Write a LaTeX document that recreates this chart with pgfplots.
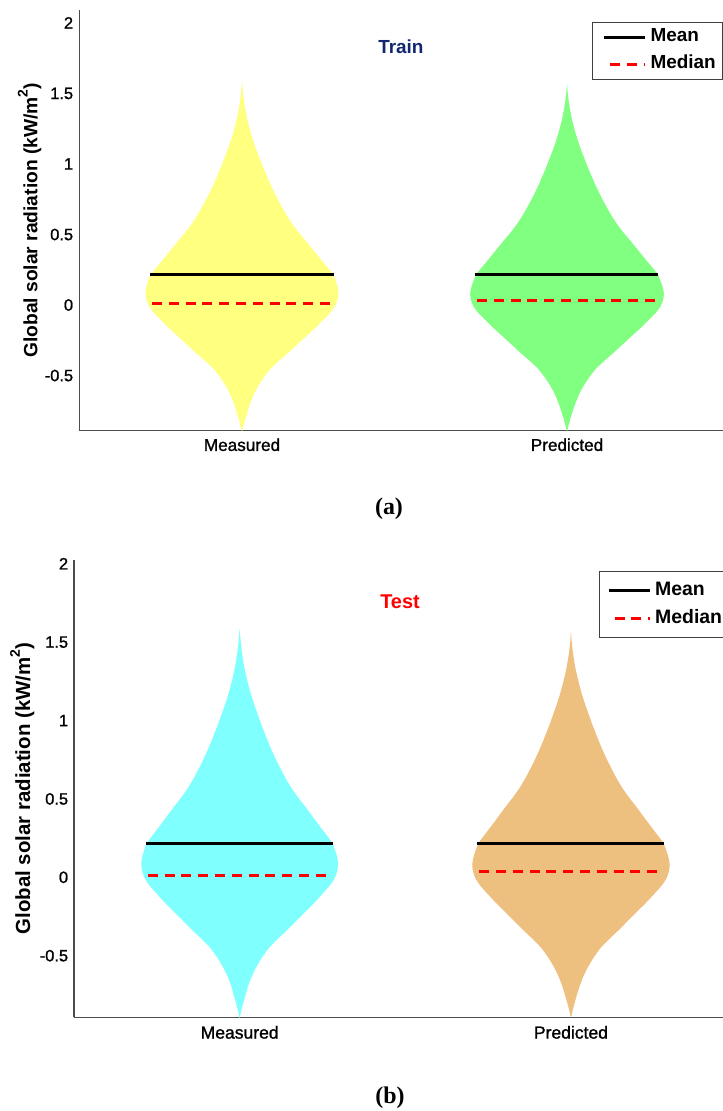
\documentclass[border=0pt]{standalone}
\usepackage{fontspec}
\setmainfont{Liberation Sans}
\newfontfamily\tickfont[FakeBold=1.2]{Liberation Sans}
\newfontfamily\timesfont{Liberation Serif}
\usepackage{pgfplots}
\usepackage{pgfplotstable}
\pgfplotsset{compat=1.18}
\usepgfplotslibrary{fillbetween}

\definecolor{vyellow}{RGB}{255,255,128}
\definecolor{vgreen}{RGB}{128,255,128}
\definecolor{vcyan}{RGB}{128,255,255}
\definecolor{vtan}{RGB}{237,192,128}
\definecolor{navy}{RGB}{18,40,110}

% violin half-width profiles: y, half width w (x units)
\pgfplotstableread{
y w
-0.900 0.000
-0.860 0.004
-0.810 0.010
-0.750 0.018
-0.690 0.026
-0.630 0.037
-0.570 0.051
-0.510 0.068
-0.452 0.088
-0.395 0.114
-0.335 0.144
-0.275 0.172
-0.216 0.200
-0.157 0.228
-0.098 0.253
-0.050 0.273
-0.004 0.287
0.045 0.295
0.091 0.297
0.140 0.293
0.214 0.281
0.270 0.262
0.328 0.241
0.385 0.221
0.445 0.200
0.505 0.178
0.564 0.158
0.623 0.141
0.682 0.126
0.741 0.112
0.800 0.099
0.859 0.087
0.918 0.076
0.977 0.065
1.037 0.055
1.096 0.045
1.155 0.036
1.214 0.028
1.273 0.021
1.330 0.015
1.390 0.010
1.450 0.006
1.510 0.003
1.585 0.000
}\meas

\pgfplotstableread{
y w
-0.900 0.000
-0.860 0.004
-0.810 0.010
-0.750 0.018
-0.690 0.027
-0.630 0.038
-0.570 0.052
-0.510 0.069
-0.452 0.089
-0.395 0.115
-0.335 0.145
-0.275 0.173
-0.216 0.201
-0.157 0.229
-0.098 0.255
-0.050 0.275
-0.004 0.289
0.040 0.296
0.082 0.298
0.130 0.294
0.214 0.280
0.270 0.261
0.328 0.240
0.385 0.220
0.445 0.199
0.505 0.177
0.564 0.157
0.623 0.140
0.682 0.125
0.741 0.111
0.800 0.098
0.859 0.086
0.918 0.075
0.977 0.064
1.037 0.054
1.096 0.044
1.155 0.035
1.214 0.027
1.273 0.020
1.330 0.014
1.390 0.009
1.450 0.005
1.510 0.002
1.570 0.000
}\pred

\pgfplotsset{
  vio/.style={
    scale only axis,
    axis x line*=bottom, axis y line*=left,
    axis line style={-, draw=black!70, line width=1.3bp},
    xmin=0.5, xmax=2.5,
    xtick={1,2}, xticklabels={Measured,Predicted},
    ytick={-0.5,0,0.5,1,1.5,2},
    yticklabels={{-0.5},{0},{0.5},{1},{1.5},{2}},
    major tick length=0pt,
    ylabel={Global solar radiation (kW/m\raisebox{0.5em}{\fontsize{14}{14}\selectfont 2})},
    legend image code/.code={\path (0bp,0bp) (45bp,0bp); \draw[##1, dash phase=10.8bp] (3bp,0bp) -- (44bp,0bp);},
  },
  meanl/.style={black, line width=3bp},
  medl/.style={red, line width=3bp, dash pattern=on 10bp off 6.8bp},
  vside/.style={draw=none, forget plot, smooth, tension=0.4},
}

\begin{document}
\begin{tikzpicture}
\path (0,0) (723bp,1111bp);

% ---------------- (a) Train ----------------
\begin{axis}[vio,
  at={(79.5bp,680.3bp)}, anchor=south west,
  width=650bp, height=420.7bp,
  ymin=-0.891, ymax=2.092,
  yticklabel style={font=\tickfont\fontsize{16.5}{18}\selectfont, inner sep=0pt, anchor=east, xshift=-6.2bp},
  xticklabel style={font=\tickfont\fontsize{17.2}{19}\selectfont, inner sep=0pt, anchor=north, yshift=-7.6bp},
  ylabel style={font=\bfseries\fontsize{19.3}{22}\selectfont, at={(axis description cs:-0.0649,0.5)}, anchor=base},
  legend style={at={(axis description cs:0.7885,0.9722)}, anchor=north west,
    draw=black!75, line width=1bp, fill=white, inner xsep=7bp, inner ysep=5.8bp,
    font=\bfseries\fontsize{19}{22}\selectfont,
    nodes={inner sep=0pt, text height=14bp, text depth=5bp},
    row sep=7.7bp, column sep=3bp, cells={anchor=west}},
]
\addplot[name path=aMR, vside] table[x expr=1+\thisrow{w}, y=y]{\meas};
\addplot[name path=aML, vside] table[x expr=1-\thisrow{w}, y=y]{\meas};
\addplot[fill=vyellow, draw=none, forget plot] fill between[of=aMR and aML];
\addplot[name path=aPR, vside] table[x expr=2+\thisrow{w}, y=y]{\pred};
\addplot[name path=aPL, vside] table[x expr=2-\thisrow{w}, y=y]{\pred};
\addplot[fill=vgreen, draw=none, forget plot] fill between[of=aPR and aPL];

\addplot[meanl] coordinates {(0.718,0.215) (1.283,0.215)};
\addlegendentry{Mean}
\addplot[medl] coordinates {(0.723,0.010) (1.277,0.010)};
\addlegendentry{Median}
\addplot[meanl, forget plot] coordinates {(1.716,0.215) (2.281,0.215)};
\addplot[medl, forget plot] coordinates {(1.723,0.035) (2.277,0.035)};

\node[font=\bfseries\fontsize{19}{22}\selectfont, text=navy] at (axis cs:1.489,1.832) {Train};
\end{axis}

\node[font=\timesfont\bfseries\fontsize{24}{26}\selectfont] at (389bp,602.5bp) {(a)};

% ---------------- (b) Test ----------------
\begin{axis}[vio,
  at={(74bp,93.7bp)}, anchor=south west,
  width=662.6bp, height=457.3bp,
  ymin=-0.893, ymax=2.024,
  yticklabel style={font=\tickfont\fontsize{16.5}{18}\selectfont, inner sep=0pt, anchor=east, xshift=-5.7bp},
  xticklabel style={font=\tickfont\fontsize{17.6}{19}\selectfont, inner sep=0pt, anchor=north, yshift=-8.4bp},
  ylabel style={font=\bfseries\fontsize{20.5}{22}\selectfont, at={(axis description cs:-0.0664,0.5)}, anchor=base},
  legend style={at={(axis description cs:0.7923,0.9766)}, anchor=north west,
    draw=black!75, line width=1bp, fill=white, inner xsep=4.7bp, inner ysep=9.5bp,
    font=\bfseries\fontsize{19.5}{22}\selectfont,
    nodes={inner sep=0pt, text height=14.5bp, text depth=5bp},
    row sep=8.3bp, column sep=3bp, cells={anchor=west}},
]
\addplot[name path=bMR, vside] table[x expr=1+\thisrow{w}, y=y]{\meas};
\addplot[name path=bML, vside] table[x expr=1-\thisrow{w}, y=y]{\meas};
\addplot[fill=vcyan, draw=none, forget plot] fill between[of=bMR and bML];
\addplot[name path=bPR, vside] table[x expr=2+\thisrow{w}, y=y]{\pred};
\addplot[name path=bPL, vside] table[x expr=2-\thisrow{w}, y=y]{\pred};
\addplot[fill=vtan, draw=none, forget plot] fill between[of=bPR and bPL];

\addplot[meanl] coordinates {(0.718,0.217) (1.283,0.217)};
\addlegendentry{Mean}
\addplot[medl] coordinates {(0.723,0.010) (1.277,0.010)};
\addlegendentry{Median}
\addplot[meanl, forget plot] coordinates {(1.716,0.217) (2.281,0.217)};
\addplot[medl, forget plot] coordinates {(1.723,0.040) (2.277,0.040)};

\node[font=\bfseries\fontsize{20}{22}\selectfont, text=red] at (axis cs:1.484,1.758) {Test};
\end{axis}

\node[font=\timesfont\bfseries\fontsize{24}{26}\selectfont] at (390bp,13.5bp) {(b)};

\pgfresetboundingbox
\useasboundingbox (0,0) rectangle (723bp,1111bp);
\end{tikzpicture}
\end{document}
